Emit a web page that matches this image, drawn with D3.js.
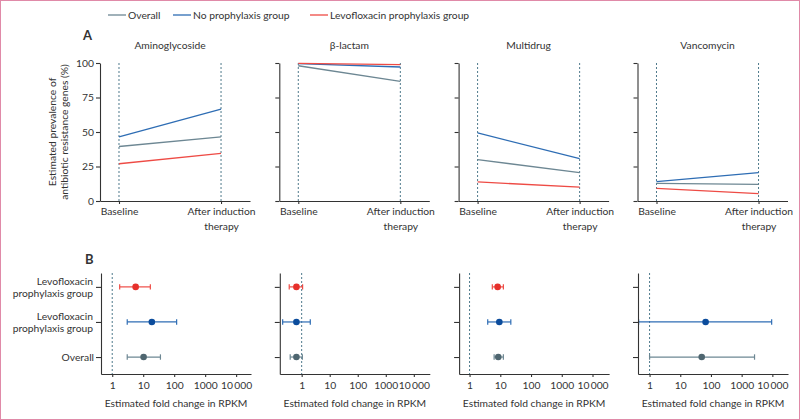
<!DOCTYPE html>
<html>
<head>
<meta charset="utf-8">
<script src="https://cdn.jsdelivr.net/npm/d3@7"></script>
<style>
  body { margin: 0; background: #fff; }
  text { font-family: Lato, "Noto Sans", sans-serif; fill: #333; }
</style>
</head>
<body>
<script>
// groups and their colours
const groups = ['Overall', 'No prophylaxis group', 'Levofloxacin prophylaxis group'];
const lineColors = ['#6d8793', '#2e6db4', '#ee4b45'];
const dotColors = ['#4f6670', '#0b4c9c', '#e6302b'];

// panel A: prevalence (%) at baseline / after induction
const drugClasses = ['Aminoglycoside', 'β-lactam', 'Multidrug', 'Vancomycin'];
const timepoints = ['Baseline', 'After induction therapy'];
const overallPrev = [[39.5, 46.5], [98, 86.7], [30, 20.5], [12.8, 12]];
const noProphPrev = [[46.5, 66.5], [99.5, 97.1], [49.3, 30.7], [14, 20.5]];
const levoPrev = [[27, 34.5], [99.8, 98.8], [13.8, 10.1], [9.2, 5.3]];
const yTicksA = [0, 25, 50, 75, 100];

// panel B: fold change [estimate, low, high], rows top to bottom
const rowLabels = ['Levofloxacin prophylaxis group', 'Levofloxacin prophylaxis group', 'Overall'];
const foldLevo = [[5.7, 1.74, 17], [0.65, 0.36, 1.08], [8.2, 5.5, 12.6], null];
const foldNoProph = [[19, 3.05, 120], [0.65, 0.21, 2.03], [9.3, 3.9, 22], [67, 0.44, 9500]];
const foldOverall = [[10.3, 3.05, 36], [0.65, 0.39, 1.06], [8.6, 6.3, 12.6], [50, 1.0, 2630]];
const xTicksB = [1, 10, 100, 1000, 10000];
const logDomains = [[0.434, 30200], [0.166, 37150], [0.457, 34670], [0.42, 32360]];

const width = 800;
const height = 420;
const fs = '10.3px';
const svg = d3.select('body')
    .append('svg')
    .attr('width', width)
    .attr('height', height);

svg.append('rect')
    .attr('x', 0.5).attr('y', 0.5)
    .attr('width', width - 1).attr('height', height - 1)
    .attr('fill', 'none')
    .attr('stroke', '#e08aa8');

const facetX = [100, 279.3, 458.6, 637.5];
const facetW = 150;
const dashColor = '#4f7a8c';

// legend
const legendX = [108, 173, 310];
groups.forEach((g, i) => {
    svg.append('line')
        .attr('x1', legendX[i]).attr('x2', legendX[i] + 18)
        .attr('y1', 15).attr('y2', 15)
        .attr('stroke', lineColors[i])
        .attr('stroke-width', 1.3);
    svg.append('text')
        .attr('x', legendX[i] + 20).attr('y', 18.5)
        .style('font-size', fs)
        .text(g);
});

function styleAxis(g) {
    g.selectAll('.domain, .tick line').attr('stroke', '#333').attr('stroke-width', 1.1);
    g.selectAll('.tick text').style('font-size', fs).attr('fill', '#333')
        .style('font-family', 'Lato, "Noto Sans", sans-serif');
}

// ---------- panel A ----------
svg.append('text')
    .attr('x', 83).attr('y', 39.5)
    .style('font-size', '13px').style('font-weight', 'bold')
    .text('A');

const yA = d3.scaleLinear().domain([0, 100]).range([201, 63]);
const xA = d3.scalePoint().domain(timepoints).range([0, facetW]).padding(0.235).align(0.396);
const prevSeries = [overallPrev, noProphPrev, levoPrev];

const lineA = d3.line()
    .x((d, i) => xA(timepoints[i]))
    .y(d => yA(d));

drugClasses.forEach((dc, f) => {
    const g = svg.append('g').attr('transform', `translate(${facetX[f]},0)`);

    g.append('text')
        .attr('x', (xA(timepoints[0]) + xA(timepoints[1])) / 2)
        .attr('y', 48.5)
        .attr('text-anchor', 'middle')
        .style('font-size', fs)
        .text(dc);

    timepoints.forEach(t => {
        g.append('line')
            .attr('x1', xA(t)).attr('x2', xA(t))
            .attr('y1', yA(100)).attr('y2', yA(0))
            .attr('stroke', dashColor)
            .attr('stroke-dasharray', '2,2');
    });

    prevSeries.forEach((s, i) => {
        g.append('path')
            .attr('d', lineA(s[f]))
            .attr('fill', 'none')
            .attr('stroke', lineColors[i])
            .attr('stroke-width', 1.3);
    });

    const ay = g.append('g')
        .call(d3.axisLeft(yA).tickValues(yTicksA).tickSize(4).tickSizeOuter(0).tickPadding(2)
            .tickFormat(f === 0 ? d3.format('d') : ''));
    styleAxis(ay);

    const ax = g.append('g')
        .attr('transform', `translate(0,${yA(0)})`)
        .call(d3.axisBottom(xA).tickSize(3).tickSizeOuter(0).tickPadding(4));
    styleAxis(ax);
    ax.selectAll('.tick text').each(function(d) {
        const words = d.split(' ');
        const t = d3.select(this).text(null);
        const lines = words.length > 1 ? [words.slice(0, 2).join(' '), words.slice(2).join(' ')] : [d];
        lines.forEach((l, k) => {
            t.append('tspan').attr('x', 0).attr('dy', k === 0 ? '0.71em' : '1.4em').text(l);
        });
    });
});

svg.append('text')
    .attr('transform', `translate(52,132) rotate(-90)`)
    .attr('text-anchor', 'middle')
    .attr('dy', '0.35em')
    .style('font-size', fs)
    .text('Estimated prevalence of');
svg.append('text')
    .attr('transform', `translate(64,132) rotate(-90)`)
    .attr('text-anchor', 'middle')
    .attr('dy', '0.35em')
    .style('font-size', fs)
    .text('antibiotic resistance genes (%)');

// ---------- panel B ----------
svg.append('text')
    .attr('x', 85).attr('y', 263.5)
    .style('font-size', '13px').style('font-weight', 'bold')
    .text('B');

const rowKeys = ['levo', 'noProph', 'overall'];
const yB = d3.scalePoint().domain(rowKeys).range([273, 374]).padding(0.44).align(0.45);
const rowSeries = [[foldLevo, 2], [foldNoProph, 1], [foldOverall, 0]];
const tenK = d => d >= 10000 ? d3.format(',')(d).replace(',', '\u2009') : d3.format('d')(d);

drugClasses.forEach((dc, f) => {
    const g = svg.append('g').attr('transform', `translate(${facetX[f] + (f === 0 ? 1 : 0.5)},0)`);
    const xB = d3.scaleLog().domain(logDomains[f]).range([0, facetW]);

    g.append('line')
        .attr('x1', xB(1)).attr('x2', xB(1))
        .attr('y1', 273).attr('y2', 374)
        .attr('stroke', dashColor)
        .attr('stroke-dasharray', '2,2');

    rowSeries.forEach(([series, ci], r) => {
        const v = series[f];
        if (!v) return;
        const y = yB(rowKeys[r]);
        g.append('line')
            .attr('x1', xB(v[1])).attr('x2', xB(v[2]))
            .attr('y1', y).attr('y2', y)
            .attr('stroke', lineColors[ci]).attr('stroke-width', 1.2);
        [v[1], v[2]].forEach(e => {
            g.append('line')
                .attr('x1', xB(e)).attr('x2', xB(e))
                .attr('y1', y - 2.7).attr('y2', y + 2.7)
                .attr('stroke', lineColors[ci]).attr('stroke-width', 1.2);
        });
        g.append('circle')
            .attr('cx', xB(v[0])).attr('cy', y)
            .attr('r', 3.3)
            .attr('fill', dotColors[ci]);
    });

    const ay = g.append('g')
        .call(d3.axisLeft(yB).tickSize(5).tickSizeOuter(0).tickPadding(2)
            .tickFormat(f === 0 ? (d, i) => rowLabels[i] : ''));
    styleAxis(ay);
    if (f === 0) {
        ay.selectAll('.tick text').each(function(d, i) {
            const label = rowLabels[i];
            const t = d3.select(this).text(null);
            if (label.indexOf(' ') > 0 && label.length > 10) {
                const sp = label.indexOf(' ');
                t.append('tspan').attr('x', -8).attr('dy', '-0.25em').text(label.slice(0, sp));
                t.append('tspan').attr('x', -8).attr('dy', '1.2em').text(label.slice(sp + 1));
            } else {
                t.text(label);
            }
        });
    }

    const ax = g.append('g')
        .attr('transform', 'translate(0,374)')
        .call(d3.axisBottom(xB).tickValues(xTicksB).tickFormat(tenK).tickSize(3).tickSizeOuter(0).tickPadding(5));
    styleAxis(ax);

    g.append('text')
        .attr('x', facetW / 2).attr('y', 407)
        .attr('text-anchor', 'middle')
        .style('font-size', fs)
        .text('Estimated fold change in RPKM');
});
</script>
</body>
</html>
